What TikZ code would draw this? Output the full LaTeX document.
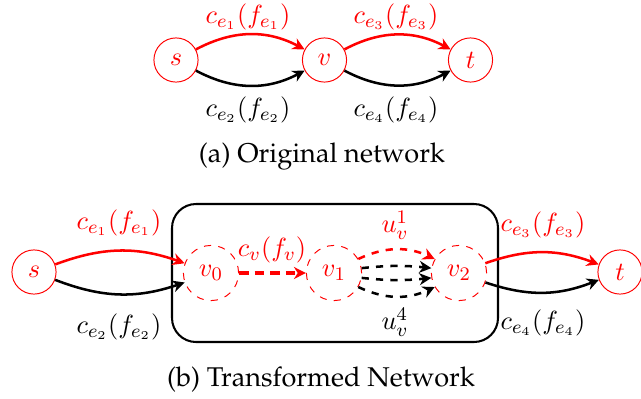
\documentclass[tikz,border=0pt]{standalone}
\usepackage[T1,TU]{fontenc}
\usetikzlibrary{arrows.meta}
\newcommand{\capfont}{\fontencoding{T1}\fontfamily{ppl}\fontsize{11.3}{13}\selectfont}
\tikzset{
  every node/.style={font=\fontsize{10.9}{13}\selectfont},
  vtx/.style={circle, draw=red, text=red, minimum size=18.4pt, inner sep=0pt, thin},
  dvtx/.style={circle, draw=red, text=red, dashed, minimum size=23pt, inner sep=0pt, thin},
  edg/.style={-{Stealth[length=5pt,width=5pt]}, line width=1.05pt},
  lbl/.style={inner sep=0pt},
  captext/.style={inner sep=0pt, font=\capfont}
}
\begin{document}
\begin{tikzpicture}[x=0.4167pt, y=-0.4167pt]
\useasboundingbox (0,0) rectangle (641,398);
% (a)
\node[vtx] (s) at (176,60) {$s$};
\node[vtx] (v) at (324.5,60) {$v$};
\node[vtx] (t) at (470.5,60) {$t$};
\draw[edg, red] (s) to[bend left=28] (v);
\draw[edg] (s) to[bend right=28] (v);
\draw[edg, red] (v) to[bend left=28] (t);
\draw[edg] (v) to[bend right=28] (t);
\node[lbl, red] (l1) at (248,17) {$c_{e_1}(f_{e_1})$};
\node[lbl] (l2) at (248,110) {$c_{e_2}(f_{e_2})$};
\node[lbl, red] (l3) at (396,17) {$c_{e_3}(f_{e_3})$};
\node[lbl] (l4) at (396,110) {$c_{e_4}(f_{e_4})$};
\node[captext] (capa) at (322,157) {(a) Original network};
% (b)
\draw[line width=0.85pt, rounded corners=10pt] (172,204) rectangle (498,342);
\node[vtx] (s2) at (34,272) {$s$};
\node[dvtx] (v0) at (211,273) {$v_0$};
\node[dvtx] (v1) at (334,273) {$v_1$};
\node[dvtx] (v2) at (459,273) {$v_2$};
\node[vtx] (t2) at (620,272) {$t$};
\draw[edg, red] (s2) to[bend left=20] (v0);
\draw[edg] (s2) to[bend right=20] (v0);
\draw[edg, red, dash pattern=on 4pt off 2.5pt, line width=1.3pt] (v0) -- (v1);
\draw[edg, red, dashed] (v1.30) to[bend left=25] (v2.150);
\draw[edg, dashed] (v1.10) to[bend left=6] (v2.170);
\draw[edg, dashed] (v1.-10) to[bend right=6] (v2.-170);
\draw[edg, dashed] (v1.-30) to[bend right=25] (v2.-150);
\draw[edg, red] (v2) to[bend left=20] (t2);
\draw[edg] (v2) to[bend right=20] (t2);
\node[lbl, red] (l5) at (119,223) {$c_{e_1}(f_{e_1})$};
\node[lbl] (l6) at (119,327) {$c_{e_2}(f_{e_2})$};
\node[lbl, red] (l7) at (272,250) {$c_v(f_v)$};
\node[lbl, red] (l8) at (395,225) {$u_v^1$};
\node[lbl] (l9) at (395,322) {$u_v^4$};
\node[lbl, red] (l10) at (543,225) {$c_{e_3}(f_{e_3})$};
\node[lbl] (l11) at (543,323) {$c_{e_4}(f_{e_4})$};
\node[captext] (capb) at (321,380) {(b) Transformed Network};
\end{tikzpicture}
\end{document}
